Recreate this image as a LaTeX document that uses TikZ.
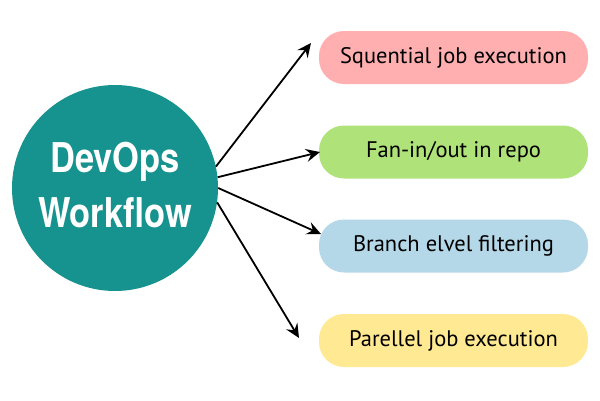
\documentclass[tikz,border=0pt]{standalone}
\usepackage{fontspec}
\setmainfont{PT Sans}
\newfontfamily\titlefont{TeX Gyre Heros}
\usetikzlibrary{arrows.meta}
\definecolor{tealc}{HTML}{17938F}
\definecolor{pinkc}{HTML}{FFAFAF}
\definecolor{greenc}{HTML}{B0E27A}
\definecolor{bluec}{HTML}{B5D8E8}
\definecolor{yellowc}{HTML}{FFE993}
\tikzset{
  box/.style={rounded corners=25pt, minimum width=269pt, minimum height=53pt, inner sep=0pt, font=\fontsize{22.5}{26}\selectfont, text=black},
  arr/.style={-{Stealth[length=14pt,width=13pt,inset=5pt]}, line width=1.8pt, black},
  ttl/.style={font=\titlefont\bfseries\fontsize{41}{55}\selectfont}
}
\newcommand{\nw}[1]{\scalebox{0.84}[1]{#1}}
\begin{document}
\begin{tikzpicture}[x=1pt,y=-1pt]
\useasboundingbox (0,0) rectangle (600,400);
\node[circle, fill=tealc, minimum size=206pt, inner sep=0pt] (c) at (115,188) {};
\node[ttl, text=white, align=center, inner sep=0pt] (t) at (115,185) {\nw{DevOps}\\\nw{Workflow}};
\node[box, fill=pinkc] (b1) at (453.5,57.5) {Squential job execution};
\node[box, fill=greenc] (b2) at (453.5,152) {Fan-in/out in repo};
\node[box, fill=bluec] (b3) at (453.5,246) {Branch elvel filtering};
\node[box, fill=yellowc] (b4) at (453.5,340.5) {Parellel job execution};
\coordinate (e1) at (311,43);
\coordinate (e2) at (320,152);
\coordinate (e3) at (321,234);
\coordinate (e4) at (299,338);
\draw[arr] (c.12) -- (e1);
\draw[arr] (c.6) -- (e2);
\draw[arr] (c.0) -- (e3);
\draw[arr] (c.-8) -- (e4);
\end{tikzpicture}
\end{document}
